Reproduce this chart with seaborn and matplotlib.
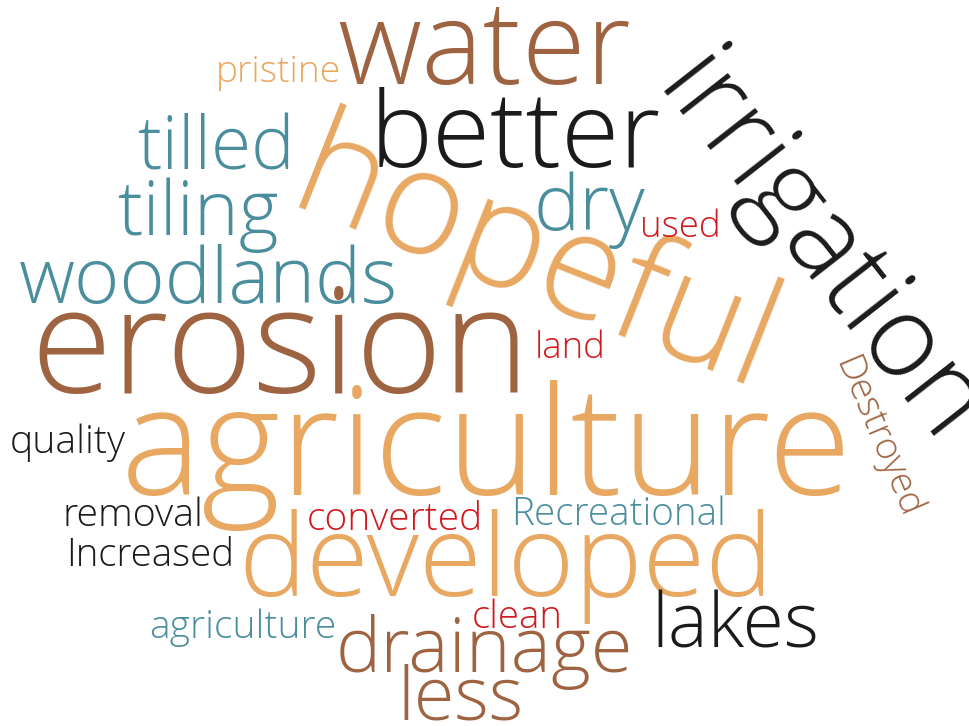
import matplotlib
matplotlib.use("Agg")
import matplotlib.pyplot as plt
import seaborn as sns

# ---- data -------------------------------------------------------------
words = ["pristine", "water", "irrigation", "better", "hopeful", "tilled",
         "tiling", "dry", "used", "woodlands", "erosion", "land",
         "Destroyed", "agriculture", "quality", "removal", "converted",
         "Recreational", "Increased", "developed", "lakes", "clean",
         "agriculture", "drainage", "less"]
groups = ["orange", "brown", "black", "black", "orange", "teal",
          "teal", "teal", "red", "teal", "brown", "red",
          "brown", "orange", "black", "black", "red",
          "teal", "black", "orange", "black", "red",
          "teal", "brown", "brown"]

# ---- layout (baseline start x, baseline y, baseline length, rotation) ----
layout_x0 = [216, 337, 654, 370, 285, 137,
             117, 534, 640, 19, 30, 535,
             835, 121, 10, 62, 307,
             511, 66, 238, 651, 472,
             149, 336, 397]
layout_y = [82, 84, 90, 167, 208, 170,
            235, 230, 237, 303, 393, 358,
            362, 495, 453, 526, 530,
            525, 566, 596, 648, 628,
            638, 672, 719]
layout_len = [126, 294, 458, 292, 505, 158,
              162, 112, 81, 380, 500, 71,
              172, 732, 116, 141, 176,
              215, 168, 536, 168, 91,
              187, 298, 126]
layout_rot = [0, 0, -52, 0, -21.6, 0,
              0, 0, 0, 0, 0, 0,
              -67, 0, 0, 0, 0,
              0, 0, 0, 0, 0,
              0, 0, 0]

palette = {"brown": "#9E6442", "orange": "#E8A862", "teal": "#4A8E9E",
           "black": "#1B1B1B", "red": "#D01A1F"}

# ---- drawing ----------------------------------------------------------
sns.set_theme(style="white")
plt.rcParams["font.family"] = ["Open Sans", "DejaVu Sans"]

fig = plt.figure(figsize=(9.7, 7.26), dpi=100)
ax = fig.add_axes([0, 0, 1, 1])
ax.set_xlim(0, 970)
ax.set_ylim(726, 0)
ax.axis("off")

fig.canvas.draw()
renderer = fig.canvas.get_renderer()

for w, g, x0, y, L, rot in zip(words, groups, layout_x0, layout_y,
                               layout_len, layout_rot):
    t = ax.text(x0, y, w, fontsize=100, color=palette[g], ha="left",
                va="baseline", rotation=0, rotation_mode="anchor",
                fontweight="light")
    w100 = t.get_window_extent(renderer).width
    t.set_fontsize(100 * L / w100)
    t.set_rotation(rot)

fig.savefig("out.png", dpi=100, facecolor="white")
